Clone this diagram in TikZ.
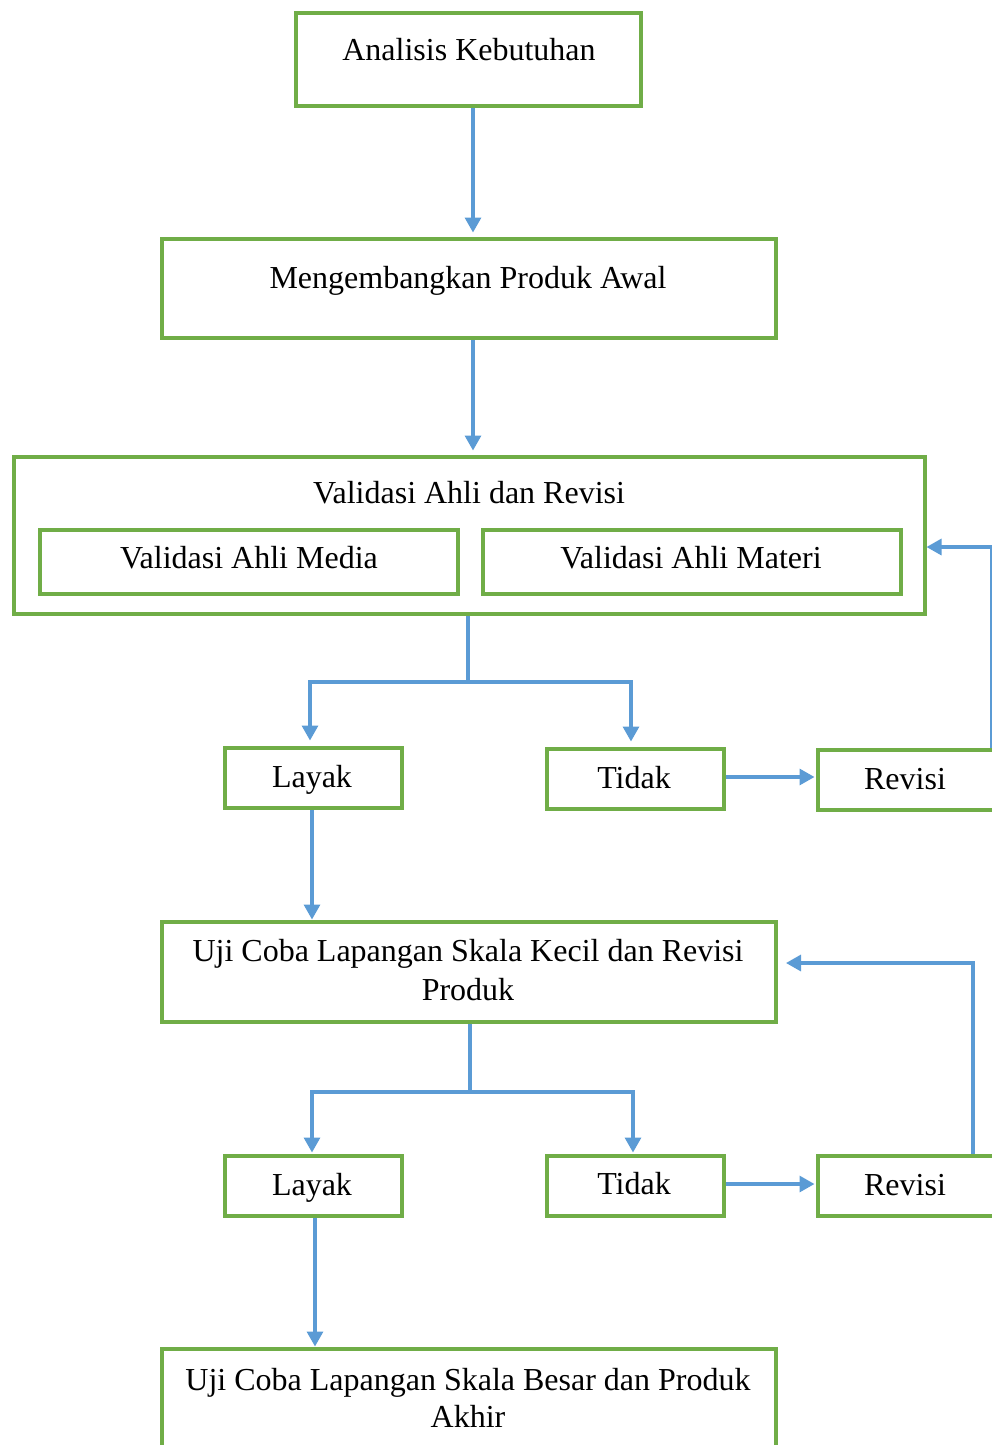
\documentclass[tikz,border=0pt]{standalone}
\usepackage{fontspec}
\setmainfont{Liberation Serif}
\usetikzlibrary{arrows.meta,calc}
\definecolor{grn}{HTML}{70AD47}
\definecolor{blu}{HTML}{5B9BD5}
\tikzset{
  box/.style={draw=grn, line width=4pt, inner sep=0pt, fill=none},
  lbl/.style={inner sep=0pt, anchor=base, font=\fontsize{32}{39}\selectfont, align=center},
  conn/.style={draw=blu, line width=3.2pt},
  arr/.style={conn, -{Triangle[length=15pt,width=16pt]}},
}
\begin{document}
\begin{tikzpicture}[x=1pt,y=-1pt]
\useasboundingbox (0,0) rectangle (992,1445);
\clip (0,0) rectangle (992,1445);
% boxes
\node[box, minimum width=345pt, minimum height=92pt] (b1) at (468,59.5) {};
\node[box, minimum width=614pt, minimum height=99pt] (b2) at (468.5,288) {};
\node[box, minimum width=911pt, minimum height=157pt] (b3) at (469,535) {};
\node[box, minimum width=418pt, minimum height=64pt] (m1) at (248.5,561.5) {};
\node[box, minimum width=418pt, minimum height=64pt] (m2) at (691.5,561.5) {};
\node[box, minimum width=177pt, minimum height=60pt] (l1) at (313,777.5) {};
\node[box, minimum width=177pt, minimum height=60pt] (t1) at (635,778.5) {};
\node[box, minimum width=200pt, minimum height=60pt] (r1) at (917.5,779.5) {};
\node[box, minimum width=614pt, minimum height=100pt] (b4) at (468.5,971.5) {};
\node[box, minimum width=177pt, minimum height=60pt] (l2) at (313,1185.5) {};
\node[box, minimum width=177pt, minimum height=60pt] (t2) at (635,1185.5) {};
\node[box, minimum width=200pt, minimum height=60pt] (r2) at (917.5,1185.5) {};
\node[box, minimum width=614pt, minimum height=150pt] (b5) at (468.5,1423.5) {};
% texts
\node[lbl] (tb1) at (469,60) {Analisis Kebutuhan};
\node[lbl] (tb2) at (468,288) {Mengembangkan Produk Awal};
\node[lbl] (tb3) at (469,503) {Validasi Ahli dan Revisi};
\node[lbl] (tm1) at (249,568) {Validasi Ahli Media};
\node[lbl] (tm2) at (691,568) {Validasi Ahli Materi};
\node[lbl] (tl1) at (312,787) {Layak};
\node[lbl] (tt1) at (634,788) {Tidak};
\node[lbl] (tr1) at (905,789) {Revisi};
\node[lbl] (tb4a) at (468,961) {Uji Coba Lapangan Skala Kecil dan Revisi};
\node[lbl] (tb4b) at (468,1000) {Produk};
\node[lbl] (tl2) at (312,1195) {Layak};
\node[lbl] (tt2) at (634,1194) {Tidak};
\node[lbl] (tr2) at (905,1195) {Revisi};
\node[lbl] (tb5a) at (468,1390) {Uji Coba Lapangan Skala Besar dan Produk};
\node[lbl] (tb5b) at (468,1427) {Akhir};
% helper coordinates
\coordinate (xa) at (473,0);
\coordinate (xb) at (468,0);
\coordinate (xl1) at (310,0);
\coordinate (xt1) at (631,0);
\coordinate (xc) at (470,0);
\coordinate (xl2) at (312,0);
\coordinate (xt2) at (633,0);
\coordinate (yb3) at (0,682);
\coordinate (yb4) at (0,1092);
\coordinate (xr1) at (991.5,0);
\coordinate (yr1) at (0,547);
\coordinate (xr2) at (973,0);
\coordinate (yr2) at (0,963);
\coordinate (fb2) at (786,963);
\coordinate (xl3) at (315,0);
% connectors
\draw[arr, shorten >=4pt] (b1.south -| xa) -- (b2.north -| xa);
\draw[arr, shorten >=4pt] (b2.south -| xa) -- (b3.north -| xa);
\draw[conn] (b3.south -| xb) -- (yb3 -| xb);
\draw[arr, shorten >=5pt] (yb3 -| xb) -- (yb3 -| xl1) -- (l1.north -| xl1);
\draw[arr, shorten >=5pt] (yb3 -| xb) -- (yb3 -| xt1) -- (t1.north -| xt1);
\draw[arr, shorten >=1pt] (t1.east |- 0,777) -- (r1.west |- 0,777);
\draw[arr] (r1.north -| xr1) -- (yr1 -| xr1) -- (b3.east |- yr1);
\draw[arr] (l1.south -| xl2) -- (b4.north -| xl2);
\draw[conn] (b4.south -| xc) -- (yb4 -| xc);
\draw[arr, shorten >=1pt] (yb4 -| xc) -- (yb4 -| xl2) -- (l2.north -| xl2);
\draw[arr, shorten >=1pt] (yb4 -| xc) -- (yb4 -| xt2) -- (t2.north -| xt2);
\draw[arr, shorten >=1pt] (t2.east |- 0,1184) -- (r2.west |- 0,1184);
\draw[arr] (r2.north -| xr2) -- (yr2 -| xr2) -- (fb2);
\draw[arr] (l2.south -| xl3) -- (b5.north -| xl3);
\end{tikzpicture}
\end{document}
